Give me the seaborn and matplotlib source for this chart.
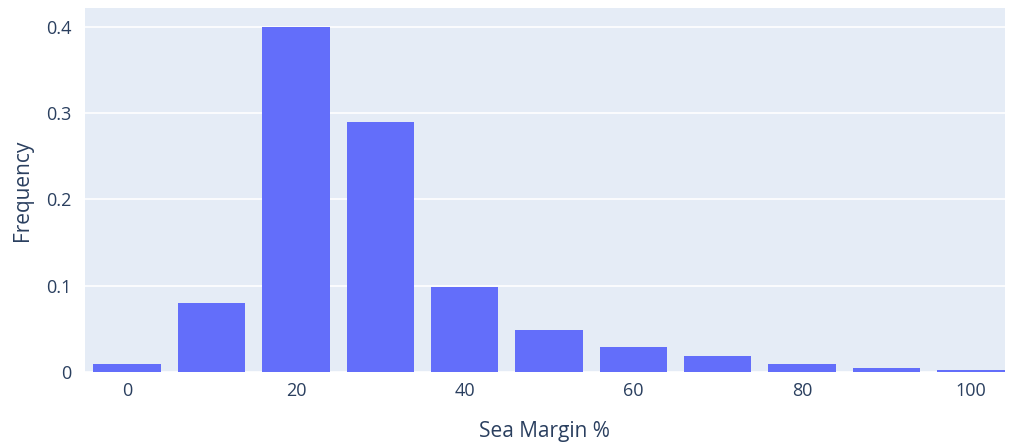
import matplotlib
matplotlib.use('Agg')
import matplotlib.pyplot as plt
import pandas as pd
import seaborn as sns

# histogram bins (Sea Margin %) and their relative frequencies
margin_bins = [0, 10, 20, 30, 40, 50, 60, 70, 80, 90, 100]
frequency = [0.009, 0.080, 0.400, 0.290, 0.099, 0.049, 0.029, 0.019, 0.009, 0.005, 0.002]
x_ticks = [0, 20, 40, 60, 80, 100]
y_ticks = [0, 0.1, 0.2, 0.3, 0.4]
y_tick_labels = ['0', '0.1', '0.2', '0.3', '0.4']

df = pd.DataFrame({'margin': margin_bins, 'freq': frequency})

sns.set_style('white')
plt.rcParams['font.family'] = ['Open Sans', 'DejaVu Sans']
text_col = '#2a3f5f'

fig = plt.figure(figsize=(10.16, 4.46), dpi=100)
ax = fig.add_axes([0.0837, 0.166, 0.905, 0.816])
ax.set_facecolor('#E5ECF6')

sns.barplot(data=df, x='margin', y='freq', native_scale=True, width=0.8,
            color='#636EFA', saturation=1, edgecolor='none', ax=ax, zorder=3)

ax.set_xlim(-5, 104)
ax.set_ylim(0, 0.422)
ax.set_xticks(x_ticks)
ax.set_yticks(y_ticks)
ax.set_yticklabels(y_tick_labels)
ax.yaxis.grid(True, color='white', linewidth=1.2, zorder=0)
ax.set_axisbelow(True)
for s in ax.spines.values():
    s.set_visible(False)
ax.tick_params(axis='x', length=0, labelsize=13, labelcolor=text_col, pad=7)
ax.tick_params(axis='y', length=0, labelsize=13, labelcolor=text_col, pad=10)
ax.set_xlabel('Sea Margin %', fontsize=15, color=text_col)
ax.set_ylabel('Frequency', fontsize=15, color=text_col)
ax.xaxis.set_label_coords(0.5, -0.135)
ax.yaxis.set_label_coords(-0.057, 0.5)

fig.savefig('out.png', dpi=100)
